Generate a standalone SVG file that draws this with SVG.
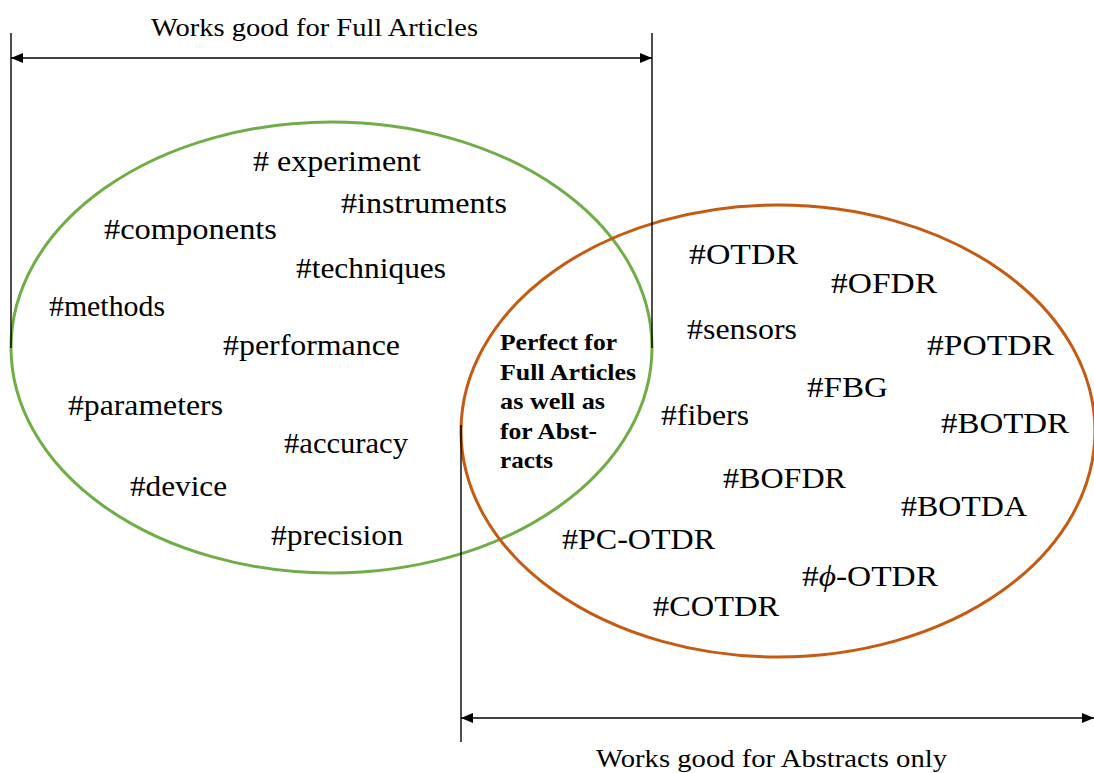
<svg xmlns="http://www.w3.org/2000/svg" width="1094" height="773" viewBox="0 0 1094 773">
<style>
.kw{font-family:"Liberation Serif",serif;font-size:30px;fill:#000}
.lbl{font-family:"Liberation Serif",serif;font-size:26px;fill:#000}
.bd{font-family:"Liberation Serif",serif;font-size:24px;font-weight:bold;fill:#000}
.dim{stroke:#000;stroke-width:1.4;fill:none}
</style>
<defs>
<marker id="ah" viewBox="0 0 12 10" refX="12" refY="5" markerWidth="12" markerHeight="10" markerUnits="userSpaceOnUse" orient="auto-start-reverse">
<path d="M0,0 L12,5 L0,10 Z" fill="#000"/>
</marker>
</defs>
<rect width="1094" height="773" fill="#fff"/>
<g id="fullArticles" font-family="Liberation Serif, serif">
<ellipse cx="331.5" cy="347.5" rx="320.5" ry="225.5" fill="none" stroke="#70AD47" stroke-width="3"/>
<text class="kw" x="253" y="171" textLength="168" lengthAdjust="spacingAndGlyphs"># experiment</text>
<text class="kw" x="341" y="213" textLength="166" lengthAdjust="spacingAndGlyphs">#instruments</text>
<text class="kw" x="104" y="239" textLength="173" lengthAdjust="spacingAndGlyphs">#components</text>
<text class="kw" x="296" y="278" textLength="150" lengthAdjust="spacingAndGlyphs">#techniques</text>
<text class="kw" x="49" y="316" textLength="116" lengthAdjust="spacingAndGlyphs">#methods</text>
<text class="kw" x="223" y="355" textLength="177" lengthAdjust="spacingAndGlyphs">#performance</text>
<text class="kw" x="68" y="415" textLength="155" lengthAdjust="spacingAndGlyphs">#parameters</text>
<text class="kw" x="284" y="453" textLength="124" lengthAdjust="spacingAndGlyphs">#accuracy</text>
<text class="kw" x="130" y="496" textLength="97" lengthAdjust="spacingAndGlyphs">#device</text>
<text class="kw" x="271" y="545" textLength="132" lengthAdjust="spacingAndGlyphs">#precision</text>
</g>
<g id="abstracts" font-family="Liberation Serif, serif">
<ellipse cx="778" cy="431" rx="317" ry="226" fill="none" stroke="#C55A11" stroke-width="3"/>
<text class="kw" x="689" y="264" textLength="109" lengthAdjust="spacingAndGlyphs">#OTDR</text>
<text class="kw" x="831" y="293" textLength="106" lengthAdjust="spacingAndGlyphs">#OFDR</text>
<text class="kw" x="687" y="339" textLength="110" lengthAdjust="spacingAndGlyphs">#sensors</text>
<text class="kw" x="927" y="355" textLength="127" lengthAdjust="spacingAndGlyphs">#POTDR</text>
<text class="kw" x="807" y="397" textLength="81" lengthAdjust="spacingAndGlyphs">#FBG</text>
<text class="kw" x="661" y="425" textLength="88" lengthAdjust="spacingAndGlyphs">#fibers</text>
<text class="kw" x="941" y="433" textLength="128" lengthAdjust="spacingAndGlyphs">#BOTDR</text>
<text class="kw" x="723" y="488" textLength="123" lengthAdjust="spacingAndGlyphs">#BOFDR</text>
<text class="kw" x="901" y="516" textLength="126" lengthAdjust="spacingAndGlyphs">#BOTDA</text>
<text class="kw" x="562" y="549" textLength="153" lengthAdjust="spacingAndGlyphs">#PC-OTDR</text>
<text class="kw" x="802" y="586" textLength="136" lengthAdjust="spacingAndGlyphs">#<tspan font-style="italic">ϕ</tspan>-OTDR</text>
<text class="kw" x="653" y="616" textLength="126" lengthAdjust="spacingAndGlyphs">#COTDR</text>
</g>
<g id="overlap">
<text class="bd" x="500" y="350" textLength="117" lengthAdjust="spacingAndGlyphs">Perfect for</text>
<text class="bd" x="500" y="380" textLength="136" lengthAdjust="spacingAndGlyphs">Full Articles</text>
<text class="bd" x="500" y="409" textLength="105" lengthAdjust="spacingAndGlyphs">as well as</text>
<text class="bd" x="500" y="439" textLength="97" lengthAdjust="spacingAndGlyphs">for Abst-</text>
<text class="bd" x="500" y="468" textLength="53" lengthAdjust="spacingAndGlyphs">racts</text>
</g>
<g id="connectors">
<line class="dim" x1="11" y1="33" x2="11" y2="348"/>
<line class="dim" x1="652" y1="33" x2="652" y2="348"/>
<line class="dim" x1="11" y1="58" x2="652" y2="58" marker-start="url(#ah)" marker-end="url(#ah)"/>
<line class="dim" x1="461" y1="425" x2="461" y2="742"/>
<line class="dim" x1="461" y1="718" x2="1094" y2="718" marker-start="url(#ah)" marker-end="url(#ah)"/>
</g>
<g id="labels">
<text class="lbl" x="151" y="36" textLength="327" lengthAdjust="spacingAndGlyphs">Works good for Full Articles</text>
<text class="lbl" x="596" y="767" textLength="351" lengthAdjust="spacingAndGlyphs">Works good for Abstracts only</text>
</g>
</svg>
